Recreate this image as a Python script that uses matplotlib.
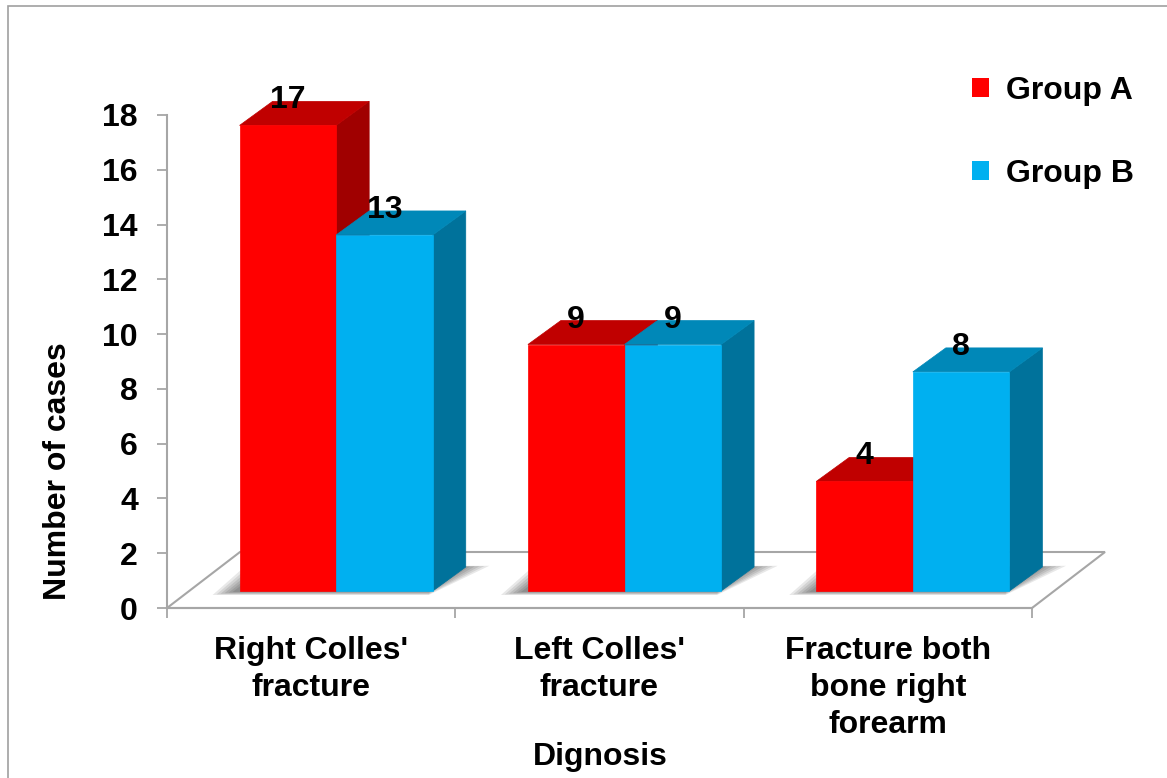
import matplotlib
matplotlib.use("Agg")
import matplotlib.pyplot as plt
from matplotlib.patches import Polygon, Rectangle, Patch

# data
categories = ["Right Colles'\nfracture", "Left Colles'\nfracture", "Fracture both\nbone right\nforearm"]
series = ["Group A", "Group B"]
group_a = [17, 9, 4]
group_b = [13, 9, 8]
yticks = list(range(0, 19, 2))

front_colors = ['#FF0000', '#00B0F0']
top_colors = ['#C00000', '#0088B8']
side_colors = ['#A00000', '#00729B']
grid_gray = '#A6A6A6'
FS = 23

plt.rcParams['font.family'] = ['Liberation Sans', 'DejaVu Sans']
plt.rcParams['font.weight'] = 'bold'

W, H = 1167, 778
fig = plt.figure(figsize=(W / 100, H / 100), dpi=100)
ax = fig.add_axes([167 / W, 170 / H, 865 / W, 493 / H])
ax.set_xlim(0, len(categories))
ax.set_ylim(0, 18)

# pixel -> data unit helpers for the fake 3D depth
px_x = len(categories) / 865
px_y = 18 / 493
floor_dx, floor_dy = 73 * px_x, 56 * px_y
off_dx, off_dy = 25 * px_x, 17 * px_y
dep_dx, dep_dy = 33 * px_x, 24 * px_y
bar_w = 0.335

# outer chart border
fig.add_artist(Rectangle((8 / W, -0.1), 1.2, 1.1 - 6 / H, transform=fig.transFigure,
                         fill=False, edgecolor='#A0A0A0', lw=1.2, clip_on=False))

# floor
n = len(categories)
floor = Polygon([(0, 0), (n, 0), (n + floor_dx, floor_dy), (floor_dx, floor_dy)],
                closed=True, facecolor='white', edgecolor=grid_gray, lw=1.5,
                clip_on=False, zorder=1)
ax.add_patch(floor)


def shadow(x0, x1):
    # soft shadow on the floor under a pair of bars
    for k in range(6):
        mx = (3 + 4 * k) * px_x
        my = (1 + 0.6 * k) * px_y
        sx = -4 * px_x
        pts = [(x0 + off_dx - mx + sx, off_dy - my),
               (x1 + off_dx + sx, off_dy - my),
               (x1 + off_dx + dep_dx + mx * 1.2 + sx, off_dy + dep_dy + my * 0.3),
               (x0 + off_dx + dep_dx - mx + sx, off_dy + dep_dy + my * 0.3)]
        ax.add_patch(Polygon(pts, closed=True, facecolor='black', edgecolor='none',
                             alpha=0.09, clip_on=False, zorder=2))


def draw_bar(x0, h, k):
    x = x0 + off_dx
    y = off_dy
    side = [(x + bar_w, y), (x + bar_w + dep_dx, y + dep_dy),
            (x + bar_w + dep_dx, y + h + dep_dy), (x + bar_w, y + h)]
    top = [(x, y + h), (x + bar_w, y + h),
           (x + bar_w + dep_dx, y + h + dep_dy), (x + dep_dx, y + h + dep_dy)]
    front = [(x, y), (x + bar_w, y), (x + bar_w, y + h), (x, y + h)]
    for pts, c in [(side, side_colors[k]), (top, top_colors[k]), (front, front_colors[k])]:
        ax.add_patch(Polygon(pts, closed=True, facecolor=c, edgecolor=c, lw=0.5,
                             clip_on=False, zorder=3))
    ax.text(x + bar_w / 2, y + h + 17 * px_y, str(h), ha='center', va='baseline',
            fontsize=FS, fontweight='bold', zorder=5, clip_on=False)


for i in range(n):
    start = i + 0.5 - bar_w
    shadow(start, start + 2 * bar_w)
    draw_bar(start, group_a[i], 0)
    draw_bar(start + bar_w, group_b[i], 1)

# axes styling
for s in ['top', 'right']:
    ax.spines[s].set_visible(False)
for s in ['left', 'bottom']:
    ax.spines[s].set_color(grid_gray)
    ax.spines[s].set_linewidth(1.5)
    ax.spines[s].set_zorder(4)

ax.set_yticks(yticks)
ax.set_yticklabels([str(v) for v in yticks])
ax.tick_params(axis='y', direction='out', length=7, width=1.3, color=grid_gray,
               labelsize=FS, pad=14)
ax.set_xticks(range(n + 1))
ax.set_xticklabels([])
ax.tick_params(axis='x', which='major', direction='out', length=7, width=1.3, color=grid_gray)
ax.set_xticks([i + 0.5 for i in range(n)], categories, minor=True)
ax.tick_params(axis='x', which='minor', length=0, labelsize=FS, pad=20)
for lab in ax.get_yticklabels() + ax.get_xticklabels(minor=True):
    lab.set_fontweight('bold')
for lab in ax.get_xticklabels(minor=True):
    lab.set_linespacing(1.3)

fig.text(58 / W, 1 - 471 / H, 'Number of cases', rotation=90, ha='center', va='center',
         fontsize=FS, fontweight='bold')
fig.text(600 / W, 1 - 757 / H, 'Dignosis', ha='center', va='center',
         fontsize=FS, fontweight='bold')

handles = [Patch(facecolor=front_colors[0]), Patch(facecolor=front_colors[1])]
ax.legend(handles, series, loc='upper left', bbox_to_anchor=(956 / W, 1 - 60 / H),
          bbox_transform=fig.transFigure, frameon=False,
          handlelength=0.53, handleheight=0.53, handletextpad=0.55, labelspacing=1.65,
          borderpad=0, prop={'weight': 'bold', 'size': FS})

fig.savefig('out.png', dpi=100)
